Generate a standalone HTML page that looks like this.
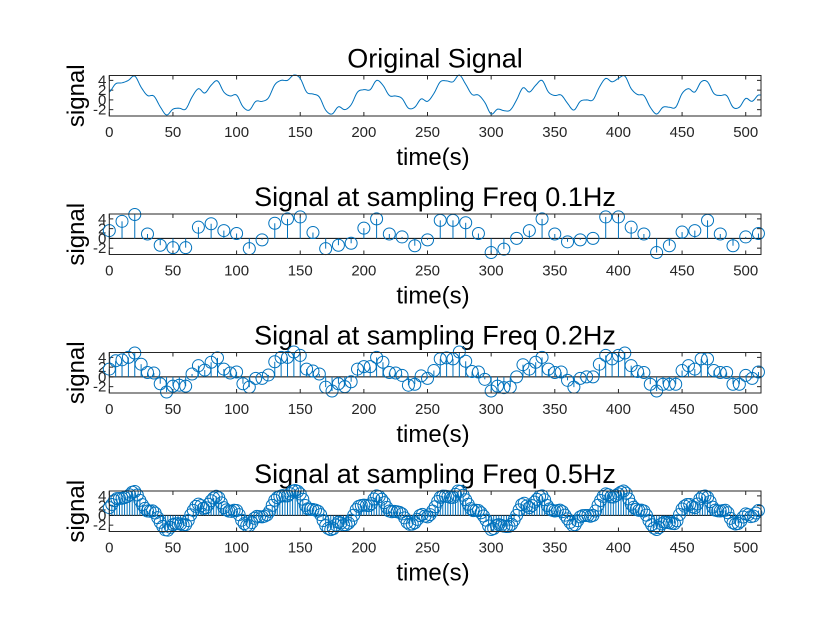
<!DOCTYPE html>
<html><head><meta charset="utf-8"><style>
html,body{margin:0;padding:0;background:#fff;}
svg{display:block;font-family:"Liberation Sans",Arial,sans-serif;}
</style></head><body>
<svg id="fig" width="840" height="630" viewBox="0 0 840 630"></svg>
<script>
const sampleTimes5 = [];
for (let i = 0; i <= 102; i++) sampleTimes5.push(i * 5);
const signalValues5 = [1.6,3.3,3.5,4.0,4.9,2.6,0.9,0.8,-1.4,-3.1,-1.9,-1.7,-1.9,0.6,2.3,1.4,3.0,3.9,1.6,0.8,1.0,-1.4,-2.1,-0.3,-0.3,0.4,3.1,4.0,4.0,5.1,4.4,1.6,1.2,0.6,-2.1,-2.9,-1.4,-2.0,-1.0,1.6,2.1,2.1,4.0,3.0,0.9,0.8,0.3,-1.7,-1.5,0.2,-0.3,1.3,3.7,3.9,3.7,5.1,3.2,1.1,1.0,-0.5,-2.9,-1.9,-2.2,-2.1,0.0,2.5,1.6,3.0,4.0,1.6,0.9,1.0,-0.7,-2.1,-0.3,0.0,0.0,2.6,4.4,3.7,4.4,4.9,2.3,1.1,0.9,-1.5,-2.9,-1.5,-1.5,-1.5,1.3,2.3,1.6,3.7,3.7,1.3,0.9,0.9,-1.5,-1.5,0.3,-0.3,1.0];
const xTicks = [0,50,100,150,200,250,300,350,400,450,500];
const yTicks = [-2,0,2,4];
const titles = ["Original Signal","Signal at sampling Freq 0.1Hz","Signal at sampling Freq 0.2Hz","Signal at sampling Freq 0.5Hz"];
const samplePeriods = [null,10,5,2];

const NS="http://www.w3.org/2000/svg";
const svg=document.getElementById('fig');
const L=109.3,R=761,H=40.5,tops=[75.5,214,352.5,491];
const XMIN=0,XMAX=512,YMIN=-3.3,YMAX=5;
const C='#0072BD';
function mk(tag,attrs,parent){const e=document.createElementNS(NS,tag);for(const k in attrs)e.setAttribute(k,attrs[k]);(parent||svg).appendChild(e);return e;}
function sx(t){return L+(t-XMIN)/(XMAX-XMIN)*(R-L);}
function sy(v,top){return top+(YMAX-v)/(YMAX-YMIN)*H;}
function val(t){
  let i=Math.floor(t/5);const n=signalValues5.length;
  if(i>=n-1)return signalValues5[n-1];
  const u=(t-i*5)/5;
  const p0=signalValues5[Math.max(i-1,0)],p1=signalValues5[i],p2=signalValues5[i+1],p3=signalValues5[Math.min(i+2,n-1)];
  return 0.5*((2*p1)+(-p0+p2)*u+(2*p0-5*p1+4*p2-p3)*u*u+(-p0+3*p1-3*p2+p3)*u*u*u);
}
tops.forEach((top,k)=>{
  const g=mk('g',{});
  
  
  const bot=top+H;
  const title=mk('text',{x:435,y:top-8,'font-size':27,'text-anchor':'middle',fill:'#000'},g);
  title.textContent=titles[k];
  
  
  xTicks.forEach(t=>{
    const x=sx(t);
    mk('line',{x1:x,x2:x,y1:bot,y2:bot-4,stroke:'#262626','stroke-width':1},g);
    mk('line',{x1:x,x2:x,y1:top,y2:top+4,stroke:'#262626','stroke-width':1},g);
    const tl=mk('text',{x:x,y:bot+21,'font-size':15,'text-anchor':'middle',fill:'#262626'},g);
    tl.textContent=t;
    
    
  });
  yTicks.forEach(v=>{
    const y=sy(v,top);
    mk('line',{x1:L,x2:L+4,y1:y,y2:y,stroke:'#262626','stroke-width':1},g);
    mk('line',{x1:R,x2:R-4,y1:y,y2:y,stroke:'#262626','stroke-width':1},g);
    const tl=mk('text',{x:L-3,y:y+5,'font-size':15,'text-anchor':'end',fill:'#262626'},g);
    tl.textContent=v;
    
    
  });
  const xl=mk('text',{x:433,y:bot+49,'font-size':24,'text-anchor':'middle',fill:'#000'},g);
  xl.textContent='time(s)';
  
  
  const yl=mk('text',{x:0,y:0,'font-size':24,'text-anchor':'middle',fill:'#000',transform:`translate(84,${top+H/2}) rotate(-90)`},g);
  yl.textContent='signal';
  
  
  if(k===0){
    let d='';
    for(let t=0;t<=XMAX;t+=1){d+=(t?'L':'M')+sx(t).toFixed(2)+' '+sy(val(t),top).toFixed(2);}
    const p=mk('path',{d:d,fill:'none',stroke:C,'stroke-width':1},g);
    
    
  } else {
    const y0=sy(0,top);
    const base=mk('line',{x1:L,x2:R,y1:y0,y2:y0,stroke:'#000','stroke-width':1},g);
    
    
    const P=samplePeriods[k];
    for(let t=0;t<=510;t+=P){
      const v=(t%5===0)?signalValues5[t/5]:val(t);
      const x=sx(t),y=sy(v,top);
      const st=mk('line',{x1:x,x2:x,y1:y0,y2:y,stroke:C,'stroke-width':1},g);
      
      
      const c=mk('circle',{cx:x,cy:y,r:6,fill:'none',stroke:C,'stroke-width':1},g);
      
      
    }
  }
  const box=mk('rect',{x:L,y:top,width:R-L,height:H,fill:'none',stroke:'#262626','stroke-width':1},g);
  
  
});
</script>
</body></html>
